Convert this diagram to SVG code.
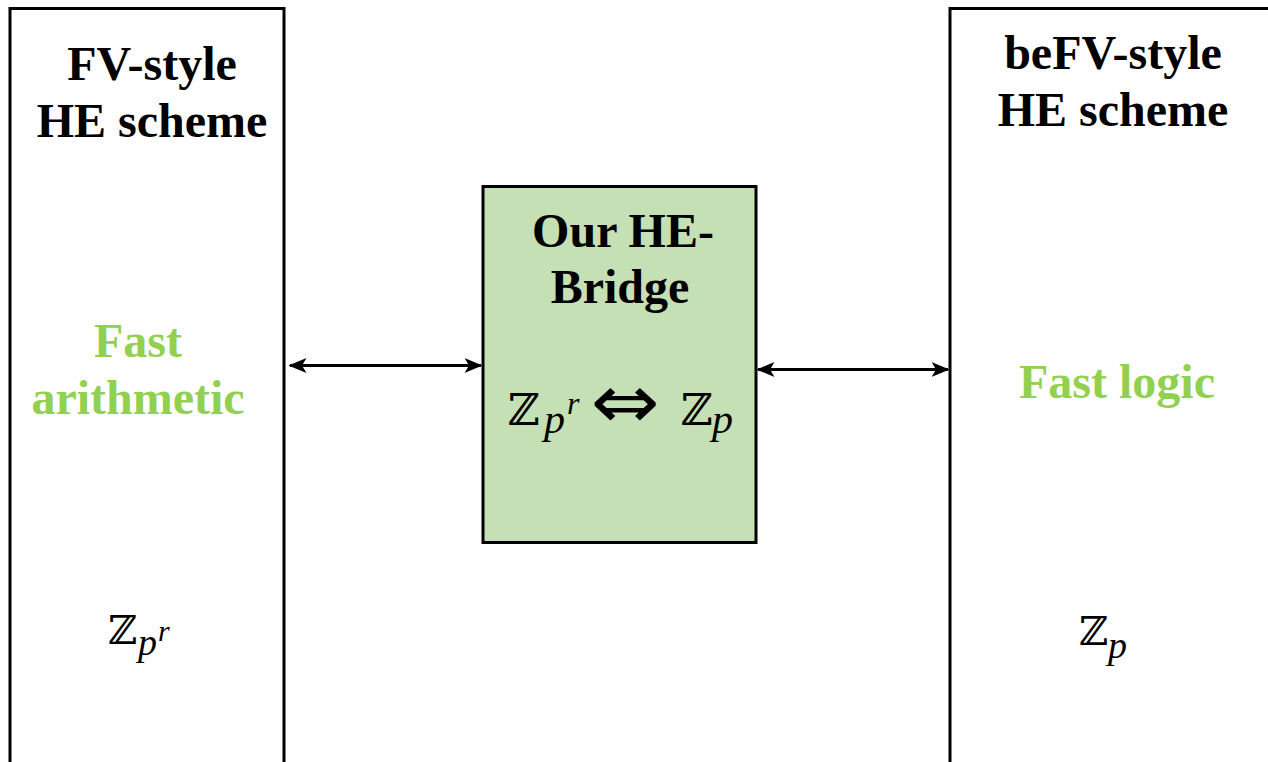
<svg xmlns="http://www.w3.org/2000/svg" width="1268" height="762" viewBox="0 0 1268 762">
  <style>
    .box { fill: #ffffff; stroke: #000000; stroke-width: 3; }
    .bridge { fill: #c5e0b4; stroke: #000000; stroke-width: 3; }
    .title { font-family: "Liberation Serif", "Times New Roman", serif; font-weight: bold; font-size: 48px; fill: #000000; text-anchor: middle; }
    .feature { font-family: "Liberation Serif", "Times New Roman", serif; font-weight: bold; font-size: 48px; fill: #92d050; text-anchor: middle; }
    .ring { font-family: "DejaVu Serif", serif; fill: #000000; }
    .var { font-family: "Liberation Serif", "Times New Roman", serif; font-style: italic; fill: #000000; }
    .conn { stroke: #000000; stroke-width: 3; fill: none; marker-start: url(#head); marker-end: url(#head); }
  </style>
  <defs>
    <marker id="head" viewBox="0 0 12 10" refX="11" refY="5" markerWidth="6" markerHeight="5" orient="auto-start-reverse" markerUnits="strokeWidth">
      <path d="M0,0 L12,5 L0,10 L3,5 Z" fill="#000000"/>
    </marker>
  </defs>

  <rect width="1268" height="762" fill="#ffffff"/>

  <!-- FV-style scheme (left column) -->
  <g id="fv-scheme">
    <path class="box" d="M10,775 L10,8.5 L284,8.5 L284,775"/>
    <text class="title" x="152" y="80">FV-style</text>
    <text class="title" x="152" y="137">HE scheme</text>
    <text class="feature" x="138" y="357">Fast</text>
    <text class="feature" x="138" y="414">arithmetic</text>
    <text><tspan class="ring" x="108" y="644" font-size="40">ℤ</tspan><tspan class="var" x="138" y="655" font-size="38">p</tspan><tspan class="var" x="158" y="641" font-size="30">r</tspan></text>
  </g>

  <!-- beFV-style scheme (right column) -->
  <g id="befv-scheme">
    <path class="box" d="M950,775 L950,8.5 L1280,8.5"/>
    <text class="title" x="1113" y="69">beFV-style</text>
    <text class="title" x="1113" y="126">HE scheme</text>
    <text class="feature" x="1117" y="398">Fast logic</text>
    <text><tspan class="ring" x="1079" y="645" font-size="40">ℤ</tspan><tspan class="var" x="1108" y="658" font-size="38">p</tspan></text>
  </g>

  <!-- HE-Bridge (centre) -->
  <g id="he-bridge">
    <rect class="bridge" x="483" y="186.5" width="273" height="356"/>
    <text class="title" x="623" y="247">Our HE-</text>
    <text class="title" x="620" y="303">Bridge</text>
    <text><tspan class="ring" x="508" y="425" font-size="44">ℤ</tspan><tspan class="var" x="544" y="433" font-size="42">p</tspan><tspan class="var" x="567" y="414" font-size="32">r</tspan></text>
    <text x="625" y="425" font-family="DejaVu Sans, sans-serif" font-size="66" text-anchor="middle" transform="translate(625 406) scale(1.25 1.15) translate(-625 -406)">⇔</text>
    <text><tspan class="ring" x="681" y="425" font-size="44">ℤ</tspan><tspan class="var" x="712" y="433" font-size="42">p</tspan></text>
  </g>

  <!-- connectors -->
  <g id="connectors">
    <line class="conn" x1="290" y1="365.5" x2="481" y2="365.5"/>
    <line class="conn" x1="758" y1="369.5" x2="948" y2="369.5"/>
  </g>
</svg>
